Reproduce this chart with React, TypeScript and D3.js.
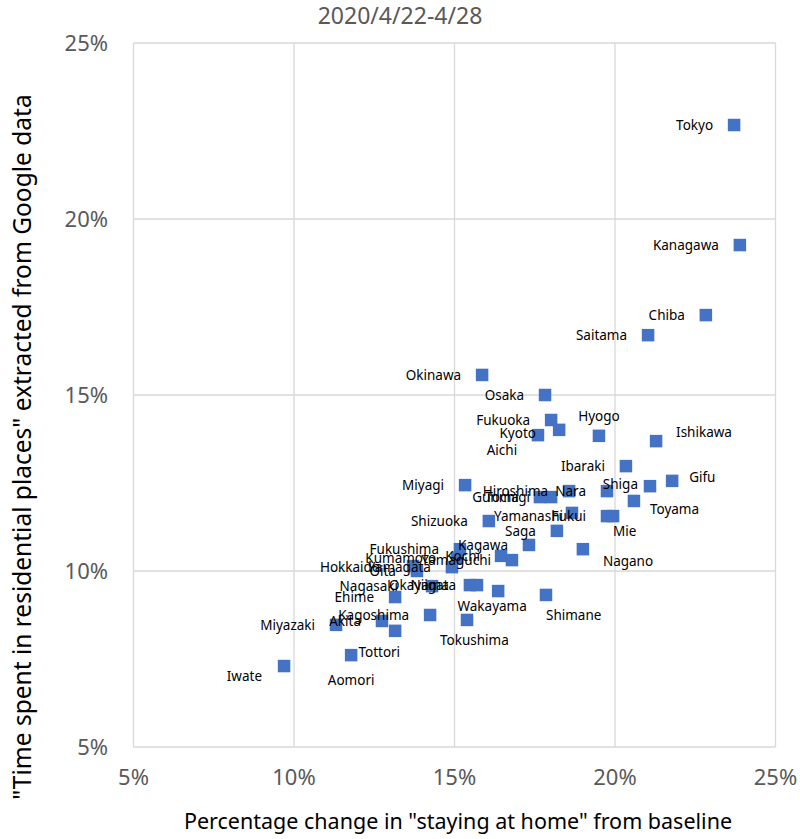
import { useEffect, useRef } from "react";
import * as d3 from "d3";

// prefecture names and their values (% change)
const prefectures = [
  "Tokyo", "Kanagawa", "Chiba", "Saitama", "Okinawa", "Osaka", "Fukuoka", "Aichi",
  "Kyoto", "Hyogo", "Ishikawa", "Ibaraki", "Gifu", "Shiga", "Miyagi", "Nara",
  "Hiroshima", "Gunma", "Tochigi", "Toyama", "Yamanashi", "Fukui", "Mie", "Shizuoka",
  "Saga", "Kagawa", "Fukushima", "Nagano", "Kochi", "Kumamoto", "Yamaguchi", "Yamagata",
  "Hokkaido", "Oita", "Nagasaki", "Okayama", "Niigata", "Wakayama", "Shimane", "Ehime",
  "Kagoshima", "Akita", "Tokushima", "Miyazaki", "Tottori", "Aomori", "Iwate",
];

const stayingAtHome = [
  23.71, 23.89, 22.83, 21.03, 15.86, 17.82, 18.01, 18.26,
  17.6, 19.5, 21.28, 20.34, 21.78, 21.09, 15.33, 19.75,
  18.57, 17.66, 18.01, 20.59, 18.66, 19.75, 19.94, 16.07,
  18.19, 17.32, 15.17, 19.0, 16.45, 15.08, 16.79, 14.92,
  13.71, 13.83, 14.3, 15.48, 15.7, 16.36, 17.85, 13.15,
  14.24, 12.74, 15.39, 11.31, 13.15, 11.78, 9.69,
];

const residential = [
  22.67, 19.26, 17.27, 16.7, 15.57, 15.0, 14.29, 14.01,
  13.86, 13.84, 13.69, 12.98, 12.56, 12.41, 12.44, 12.27,
  12.27, 12.1, 12.1, 11.99, 11.65, 11.56, 11.56, 11.42,
  11.14, 10.74, 10.62, 10.62, 10.43, 10.37, 10.31, 10.11,
  10.14, 10.0, 9.57, 9.6, 9.6, 9.43, 9.32, 9.26,
  8.75, 8.58, 8.61, 8.47, 8.3, 7.61, 7.3,
];

const ticks = [5, 10, 15, 20, 25];

// label placement: [dx, dy, anchor]; default is to the left of the marker
const labelPlacement: Record<string, [number, number, string]> = {
  Hyogo: [0, -20, "middle"],
  Ishikawa: [20, -9, "start"],
  Gifu: [17, -4, "start"],
  Toyama: [16, 8, "start"],
  Mie: [0, 15, "start"],
  Aichi: [-42, 20, "end"],
  Nagano: [20, 12, "start"],
  Shimane: [0, 20, "start"],
  Tokushima: [-27, 20, "start"],
  Wakayama: [-6, 15, "middle"],
  Tottori: [5, 21, "end"],
  Aomori: [0, 25, "middle"],
  Iwate: [-22, 10, "end"],
  Shiga: [-12, -2, "end"],
  Yamanashi: [-9, 3, "end"],
  Kyoto: [-2, -2, "end"],
  Hokkaido: [-33, 1, "end"],
  Nagasaki: [-34, 0, "end"],
};

type Point = { name: string; x: number; y: number };

export default function App() {
  const ref = useRef<SVGSVGElement>(null);

  useEffect(() => {
    const svg = d3.select(ref.current);
    svg.selectAll("*").remove();

    const width = 800;
    const height = 839;
    const font = "'Noto Sans', sans-serif";
    svg.attr("width", width).attr("height", height);

    const x = d3.scaleLinear().domain([5, 25]).range([133.5, 775.5]);
    const y = d3.scaleLinear().domain([5, 25]).range([747, 43]);

    const data: Point[] = prefectures.map((name, i) => ({
      name,
      x: stayingAtHome[i],
      y: residential[i],
    }));

    // grid
    const grid = svg.append("g");
    grid
      .selectAll("line.v")
      .data(ticks)
      .enter()
      .append("line")
      .attr("x1", (d) => x(d))
      .attr("x2", (d) => x(d))
      .attr("y1", y(5))
      .attr("y2", y(25))
      .attr("stroke", "#d9d9d9")
      .attr("stroke-width", 1.3);
    grid
      .selectAll("line.h")
      .data(ticks)
      .enter()
      .append("line")
      .attr("y1", (d) => y(d))
      .attr("y2", (d) => y(d))
      .attr("x1", x(5))
      .attr("x2", x(25))
      .attr("stroke", "#d9d9d9")
      .attr("stroke-width", 1.3);

    // tick labels
    svg
      .append("g")
      .selectAll("text")
      .data(ticks)
      .enter()
      .append("text")
      .attr("x", (d) => x(d))
      .attr("y", 785)
      .attr("text-anchor", "middle")
      .style("font-family", font)
      .style("font-size", "22px")
      .style("fill", "#595959")
      .text((d) => `${d}%`);
    svg
      .append("g")
      .selectAll("text")
      .data(ticks)
      .enter()
      .append("text")
      .attr("x", 108)
      .attr("y", (d) => y(d))
      .attr("dy", "0.35em")
      .attr("text-anchor", "end")
      .style("font-family", font)
      .style("font-size", "22px")
      .style("fill", "#595959")
      .text((d) => `${d}%`);

    // title
    svg
      .append("text")
      .attr("x", 400)
      .attr("y", 24)
      .attr("text-anchor", "middle")
      .style("font-family", font)
      .style("font-size", "23px")
      .style("fill", "#595959")
      .text("2020/4/22-4/28");

    // axis titles
    svg
      .append("text")
      .attr("x", 458)
      .attr("y", 829)
      .attr("text-anchor", "middle")
      .style("font-family", font)
      .style("font-size", "21.5px")
      .style("fill", "#000")
      .text('Percentage change in "staying at home" from baseline');
    svg
      .append("text")
      .attr("transform", `translate(31,${447}) rotate(-90)`)
      .attr("text-anchor", "middle")
      .style("font-family", font)
      .style("font-size", "24.5px")
      .style("fill", "#000")
      .text('"Time spent in residential places" extracted from  Google data');

    // markers
    const size = 12.5;
    svg
      .append("g")
      .selectAll("rect")
      .data(data)
      .enter()
      .append("rect")
      .attr("x", (d) => x(d.x) - size / 2)
      .attr("y", (d) => y(d.y) - size / 2)
      .attr("width", size)
      .attr("height", size)
      .attr("fill", "#4472c4");

    // labels
    svg
      .append("g")
      .selectAll("text")
      .data(data)
      .enter()
      .append("text")
      .attr("x", (d) => x(d.x) + (labelPlacement[d.name]?.[0] ?? -21))
      .attr("y", (d) => y(d.y) + (labelPlacement[d.name]?.[1] ?? 0))
      .attr("dy", "0.35em")
      .attr("text-anchor", (d) => labelPlacement[d.name]?.[2] ?? "end")
      .style("font-family", font)
      .style("font-size", "13.5px")
      .style("fill", "#000")
      .text((d) => d.name);
  }, []);

  return (
    <div style={{ position: "absolute", top: 0, left: 0 }}>
      <svg ref={ref} style={{ display: "block", background: "#fff" }}></svg>
    </div>
  );
}
